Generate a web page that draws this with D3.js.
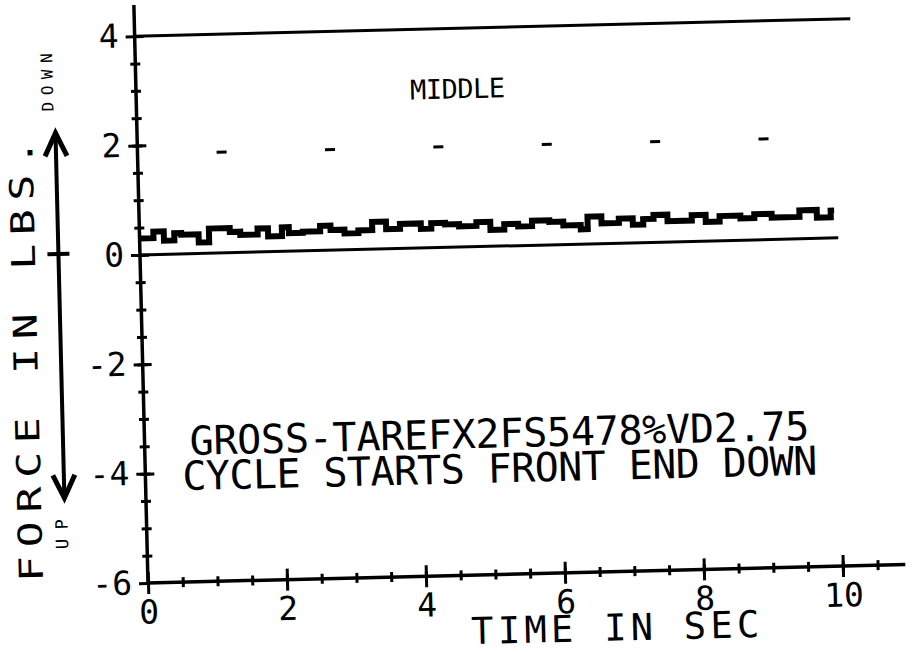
<!DOCTYPE html>
<html>
<head>
<meta charset="utf-8">
<script src="https://cdn.jsdelivr.net/npm/d3@7"></script>
<style>
  body { margin: 0; background: #fff; }
  svg { display: block; }
</style>
</head>
<body>
<div id="graph"></div>
<script>
// chart data
const xMajorTicks = [0, 2, 4, 6, 8, 10];
const yMajorTicks = [-6, -4, -2, 0, 2, 4];

// force trace (lbs) over time (sec), stepped plotter output
const traceTime = [0, 0.2, 0.35, 0.5, 0.6, 0.85, 1.0, 1.3, 1.45, 1.7,
    1.85, 2.05, 2.15, 2.35, 2.45, 2.6, 2.75, 2.95, 3.15, 3.35,
    3.55, 3.75, 4.05, 4.2, 4.4, 4.6, 4.85, 5.05, 5.25, 5.45,
    5.65, 5.9, 6.1, 6.35, 6.45, 6.65, 6.9, 7.1, 7.25, 7.4,
    7.6, 7.95, 8.15, 8.35, 8.65, 8.85, 9.1, 9.5, 9.75, 9.95, 10.0];
const traceForce = [0.3, 0.42, 0.25, 0.38, 0.35, 0.2, 0.45, 0.38, 0.32, 0.43,
    0.28, 0.44, 0.33, 0.35, 0.35, 0.45, 0.37, 0.3, 0.35, 0.5,
    0.36, 0.45, 0.35, 0.45, 0.42, 0.38, 0.45, 0.3, 0.4, 0.35,
    0.45, 0.42, 0.35, 0.27, 0.5, 0.37, 0.45, 0.33, 0.43, 0.5,
    0.38, 0.48, 0.35, 0.45, 0.4, 0.47, 0.4, 0.52, 0.38, 0.5, 0.5];

// "middle" marker dashes
const dashTime = [1.21, 2.77, 4.33, 5.89, 7.45, 9.01];
const dashForce = [1.84, 1.84, 1.84, 1.84, 1.84, 1.84];

// horizontal reference lines
const refLevel = [4, 0];
const refEnd = [10.3, 10.05];

const titleLines = ["GROSS-TAREFX2FS5478%VD2.75", "CYCLE STARTS FRONT END DOWN"];

const width = 915, height = 652;
const font = "'DejaVu Sans Mono', 'Liberation Mono', monospace";

const svg = d3.select('#graph').append('svg')
    .attr('width', width)
    .attr('height', height);

// the scan is tilted a little, so the whole plot is drawn in a rotated group
const g = svg.append('g')
    .attr('transform', 'rotate(-1.4, 148, 583)');

const x = d3.scaleLinear().domain([0, 10]).range([148, 843]);
const y = d3.scaleLinear().domain([-6, 4]).range([583, 36]);

// axis lines
g.append('line')
    .attr('x1', x(0)).attr('x2', x(10.9))
    .attr('y1', y(-6)).attr('y2', y(-6))
    .attr('stroke', '#000').attr('stroke-width', 3.5);
g.append('line')
    .attr('x1', x(0)).attr('x2', x(0))
    .attr('y1', y(-6)).attr('y2', y(4.57))
    .attr('stroke', '#000').attr('stroke-width', 3.5);

function styleAxis(sel) {
    sel.select('.domain').remove();
    sel.selectAll('.tick line').attr('stroke', '#000').attr('stroke-width', 3);
    sel.selectAll('.tick text')
        .attr('fill', '#000')
        .attr('font-family', font)
        .attr('font-size', 33);
}

const fmt = d => d < 0 ? '-' + Math.abs(d) : String(d);

// x axis: ticks cross the line, labels below
g.append('g').attr('transform', `translate(0,${y(-6)})`)
    .call(d3.axisBottom(x).tickValues(d3.range(0.5, 10.6, 0.5)).tickSize(5).tickFormat(''))
    .call(styleAxis);
g.append('g').attr('transform', `translate(0,${y(-6)})`)
    .call(d3.axisTop(x).tickValues(d3.range(0.5, 10.6, 0.5)).tickSize(5).tickFormat(''))
    .call(styleAxis);
g.append('g').attr('transform', `translate(0,${y(-6)})`)
    .call(d3.axisTop(x).tickValues(xMajorTicks).tickSize(11).tickFormat(''))
    .call(styleAxis);
g.append('g').attr('transform', `translate(0,${y(-6)})`)
    .call(d3.axisBottom(x).tickValues(xMajorTicks).tickSize(11).tickPadding(6).tickFormat(fmt))
    .call(styleAxis);

// y axis
g.append('g').attr('transform', `translate(${x(0)},0)`)
    .call(d3.axisLeft(y).tickValues(d3.range(-5.5, 4, 0.5)).tickSize(5).tickFormat(''))
    .call(styleAxis);
g.append('g').attr('transform', `translate(${x(0)},0)`)
    .call(d3.axisRight(y).tickValues(d3.range(-5.5, 4, 0.5)).tickSize(5).tickFormat(''))
    .call(styleAxis);
g.append('g').attr('transform', `translate(${x(0)},0)`)
    .call(d3.axisRight(y).tickValues(yMajorTicks.slice(1)).tickSize(9).tickFormat(''))
    .call(styleAxis);
g.append('g').attr('transform', `translate(${x(0)},0)`)
    .call(d3.axisLeft(y).tickValues(yMajorTicks).tickSize(9).tickPadding(7).tickFormat(fmt))
    .call(styleAxis);

// reference lines at 4 and 0
g.selectAll('.ref')
    .data(refLevel)
    .enter().append('line')
    .attr('class', 'ref')
    .attr('x1', x(0))
    .attr('x2', (d, i) => x(refEnd[i]))
    .attr('y1', d => y(d))
    .attr('y2', d => y(d))
    .attr('stroke', '#000')
    .attr('stroke-width', 3);

// force trace
const trace = traceTime.map((t, i) => [t, traceForce[i]]);
g.append('path')
    .datum(trace)
    .attr('fill', 'none')
    .attr('stroke', '#000')
    .attr('stroke-width', 6)
    .attr('stroke-linejoin', 'miter')
    .attr('d', d3.line().x(d => x(d[0])).y(d => y(d[1])).curve(d3.curveStepAfter));

// small dashes
g.selectAll('.dash')
    .data(dashTime)
    .enter().append('line')
    .attr('class', 'dash')
    .attr('x1', d => x(d) - 5)
    .attr('x2', d => x(d) + 5)
    .attr('y1', (d, i) => y(dashForce[i]))
    .attr('y2', (d, i) => y(dashForce[i]))
    .attr('stroke', '#000')
    .attr('stroke-width', 3);

// texts
g.append('text')
    .attr('x', 422).attr('y', 106)
    .attr('font-family', font).attr('font-size', 27)
    .attr('textLength', 95).attr('lengthAdjust', 'spacing')
    .text('MIDDLE');

g.append('text')
    .attr('x', 193).attr('y', 456)
    .attr('font-family', font).attr('font-size', 40)
    .attr('textLength', 620).attr('lengthAdjust', 'spacing')
    .text(titleLines[0]);
g.append('text')
    .attr('x', 185).attr('y', 491)
    .attr('font-family', font).attr('font-size', 40)
    .attr('textLength', 635).attr('lengthAdjust', 'spacing')
    .text(titleLines[1]);

g.append('text')
    .attr('x', 614).attr('y', 652)
    .attr('text-anchor', 'middle')
    .attr('font-family', font).attr('font-size', 37)
    .attr('textLength', 288).attr('lengthAdjust', 'spacing')
    .text('TIME IN SEC');

// vertical title
g.append('text')
    .attr('transform', 'translate(43,579) rotate(-90) scale(1.3,1)')
    .attr('font-family', font).attr('font-size', 33)
    .attr('textLength', 340).attr('lengthAdjust', 'spacing')
    .text('FORCE IN LBS.');

// small direction words next to the arrow
g.append('text')
    .attr('transform', 'translate(65,109) rotate(-90)')
    .style('font-family', font).style('font-size', '16px')
    .attr('textLength', 58).attr('lengthAdjust', 'spacing')
    .text('DOWN');
g.append('text')
    .attr('transform', 'translate(69,547) rotate(-90)')
    .style('font-family', font).style('font-size', '17px')
    .attr('textLength', 30).attr('lengthAdjust', 'spacing')
    .text('UP');

// up/down arrow
const ax = 66.5;
g.append('line')
    .attr('x1', ax).attr('x2', ax).attr('y1', 132).attr('y2', 494)
    .attr('stroke', '#000').attr('stroke-width', 4);
g.append('line')
    .attr('x1', ax - 11).attr('x2', ax + 11).attr('y1', 252).attr('y2', 252)
    .attr('stroke', '#000').attr('stroke-width', 4);
g.append('path')
    .attr('d', `M${ax - 11},154 L${ax},131 L${ax + 11},154`)
    .attr('fill', 'none').attr('stroke', '#000').attr('stroke-width', 5);
g.append('path')
    .attr('d', `M${ax - 11},473 L${ax},496 L${ax + 11},473`)
    .attr('fill', 'none').attr('stroke', '#000').attr('stroke-width', 5);
</script>
</body>
</html>
